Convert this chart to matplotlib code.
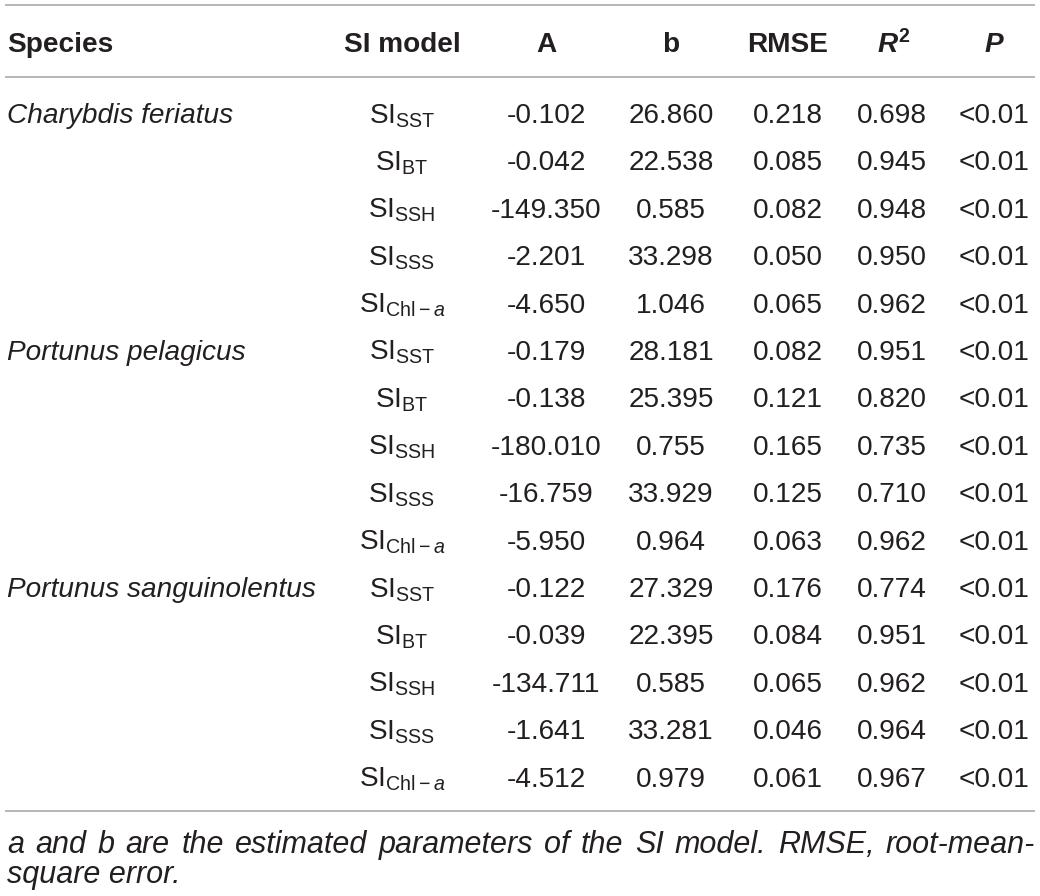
import matplotlib
matplotlib.use("Agg")
import matplotlib.pyplot as plt
from matplotlib import font_manager

# ---------------- data ----------------
species = ["Charybdis feriatus", "Portunus pelagicus", "Portunus sanguinolentus"]
models = ["SST", "BT", "SSH", "SSS", "Chl-a"]
A_vals = ["-0.102", "-0.042", "-149.350", "-2.201", "-4.650",
          "-0.179", "-0.138", "-180.010", "-16.759", "-5.950",
          "-0.122", "-0.039", "-134.711", "-1.641", "-4.512"]
b_vals = ["26.860", "22.538", "0.585", "33.298", "1.046",
          "28.181", "25.395", "0.755", "33.929", "0.964",
          "27.329", "22.395", "0.585", "33.281", "0.979"]
rmse_vals = ["0.218", "0.085", "0.082", "0.050", "0.065",
             "0.082", "0.121", "0.165", "0.125", "0.063",
             "0.176", "0.084", "0.065", "0.046", "0.061"]
r2_vals = ["0.698", "0.945", "0.948", "0.950", "0.962",
           "0.951", "0.820", "0.735", "0.710", "0.962",
           "0.774", "0.951", "0.962", "0.964", "0.967"]
p_vals = ["<0.01"] * 15
footnote_line1 = "a and b are the estimated parameters of the SI model. RMSE, root-mean-"
footnote_line2 = "square error."

# ---------------- style ----------------
TXT = "#231f20"
LINE = "#a3a3a3"
FS = 20.2
plt.rcParams["font.family"] = ["Liberation Sans", "DejaVu Sans"]
plt.rcParams["mathtext.fontset"] = "custom"
plt.rcParams["mathtext.rm"] = "Liberation Sans"
plt.rcParams["mathtext.it"] = "Liberation Sans:italic"
plt.rcParams["mathtext.bf"] = "Liberation Sans:bold"

def has_font(name):
    try:
        font_manager.findfont(font_manager.FontProperties(family=name), fallback_to_default=False)
        return True
    except Exception:
        return False

narrow = has_font("Liberation Sans Narrow")

fig = plt.figure(figsize=(10.4, 8.96), dpi=100)
ax = fig.add_axes([0, 0, 1, 1])
ax.set_xlim(0, 1040)
ax.set_ylim(896, 0)
ax.axis("off")

x_left, x_right = 5, 1035
col_model, col_A, col_b, col_rmse, col_r2, col_p = 402, 546, 671, 788, 892, 994
y_header = 52
y_row0 = 123
dy = 47.4

# rules
for y in (5, 77, 811):
    ax.plot([x_left, x_right], [y, y], color=LINE, lw=1.1, solid_capstyle="butt")

# header
hdr = dict(fontsize=FS, fontweight="bold", color=TXT, va="baseline")
ax.text(7, y_header, "Species", ha="left", **hdr)
ax.text(col_model, y_header, "SI model", ha="center", **hdr)
ax.text(col_A, y_header, "A", ha="center", **hdr)
ax.text(col_b, y_header, "b", ha="center", **hdr)
ax.text(col_rmse, y_header, "RMSE", ha="center", **hdr)
ax.text(col_r2 + 6, y_header, "R", ha="right", style="italic", **hdr)
ax.text(col_r2 + 6, y_header - 10, "2", ha="left", fontsize=FS * 0.7,
        fontweight="bold", color=TXT, va="baseline")
ax.text(col_p, y_header, "P", ha="center", style="italic", **hdr)

def model_label(m):
    if m == "Chl-a":
        return r"SI$_{\mathrm{Chl}-a}$"
    return r"SI$_{\mathrm{%s}}$" % m

cell = dict(fontsize=FS, color=TXT, va="baseline", ha="center")
for i in range(len(A_vals)):
    y = y_row0 + i * dy
    g, k = divmod(i, len(models))
    if k == 0:
        ax.text(7, y, species[g], ha="left", va="baseline", fontsize=FS,
                style="italic", color=TXT)
    ax.text(col_model, y, model_label(models[k]), **cell)
    ax.text(col_A, y, A_vals[i], **cell)
    ax.text(col_b, y, b_vals[i], **cell)
    ax.text(col_rmse, y, rmse_vals[i], **cell)
    ax.text(col_r2, y, r2_vals[i], **cell)
    ax.text(col_p, y, p_vals[i], **cell)

# footnote (justified first line)
fam = ["Liberation Sans Narrow", "Liberation Sans"] if narrow else ["Liberation Sans"]
fn_size = 23 if narrow else 22
fig.canvas.draw()
renderer = fig.canvas.get_renderer()
words = footnote_line1.split(" ")
while True:
    fn = dict(fontsize=fn_size, style="italic", color=TXT, va="baseline", family=fam)
    arts = [ax.text(0, 853, w, ha="left", **fn) for w in words]
    widths = [a.get_window_extent(renderer).width for a in arts]
    gap = (x_right - 7 - sum(widths)) / (len(words) - 1)
    if gap >= fn_size * 100 / 72 * 0.24 or fn_size < 16:
        break
    for a in arts:
        a.remove()
    fn_size -= 0.25
x = 7
for a, w in zip(arts, widths):
    a.set_x(x)
    x += w + gap
ax.text(7, 883, footnote_line2, ha="left", **fn)

fig.savefig("out.png", dpi=100)
